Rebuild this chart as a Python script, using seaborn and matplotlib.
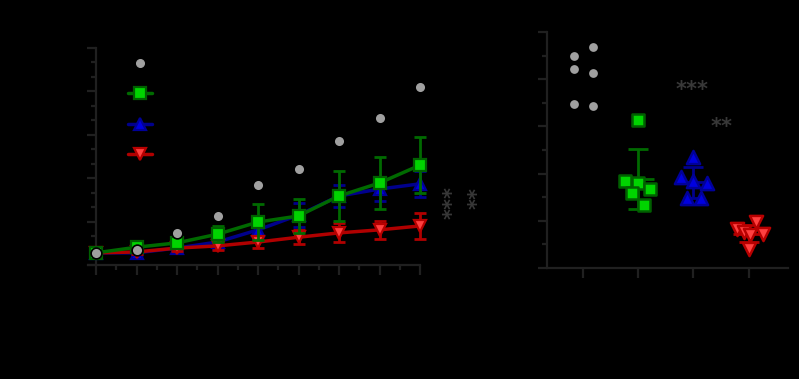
import numpy as np
import pandas as pd
import matplotlib
matplotlib.use("Agg")
import matplotlib.pyplot as plt
from matplotlib.lines import Line2D
from matplotlib.ticker import MultipleLocator
import seaborn as sns

# ---------------- data ----------------
days = [0, 1, 2, 3, 4, 5, 6, 7, 8]
control_mean = [0.28, 0.35, 0.74, 1.13, 1.84, 2.21, 2.86, 3.39, 4.10]
green_mean = [0.28, 0.41, 0.51, 0.71, 0.99, 1.13, 1.59, 1.89, 2.30]
green_err = [0.0, 0.05, 0.06, 0.18, 0.41, 0.39, 0.58, 0.60, 0.65]
blue_mean = [0.28, 0.28, 0.39, 0.53, 0.81, 1.15, 1.59, 1.75, 1.87]
blue_err = [0.0, 0.04, 0.06, 0.16, 0.20, 0.28, 0.25, 0.28, 0.30]
red_mean = [0.28, 0.30, 0.39, 0.44, 0.53, 0.64, 0.74, 0.81, 0.90]
red_err = [0.0, 0.04, 0.07, 0.10, 0.14, 0.16, 0.22, 0.20, 0.30]

groups = ["G0", "G1", "G2", "G3"]
control_pts = [4.49, 4.22, 3.47, 4.68, 4.13, 3.43]
green_pts = [3.14, 1.84, 1.80, 1.67, 1.59, 1.33]
blue_pts = [2.35, 1.93, 1.84, 1.80, 1.48, 1.48]
red_pts = [0.97, 0.83, 0.76, 0.72, 0.70, 0.40]

stars_left = ["***", "**"]
stars_right = ["***", "**"]

# scatter-dot spread (horizontal jitter, in category widths)
control_jit = [-0.16, -0.16, -0.16, 0.18, 0.18, 0.18]
green_jit = [0.0, -0.23, 0.0, 0.22, -0.11, 0.11]
blue_jit = [0.0, -0.22, 0.0, 0.24, -0.11, 0.13]
red_jit = [0.13, -0.22, -0.09, 0.25, 0.02, 0.0]

# ---------------- style ----------------
sns.set_theme(style="ticks")
plt.rcParams["font.family"] = ["DejaVu Sans"]
BG = "black"
SPINE = "#202020"
STAR = "#383838"

GRAY_F = "#a0a0a0"
GREEN_L, GREEN_F, GREEN_E = "#006a00", "#00d400", "#006000"
BLUE_L, BLUE_F, BLUE_E = "#00008c", "#0000e0", "#000099"
RED_L, RED_F, RED_E = "#b00000", "#ff4040", "#b80000"

fig = plt.figure(figsize=(7.99, 3.79), dpi=100, facecolor=BG)

def style_axes(ax):
    ax.set_facecolor(BG)
    for s in ["top", "right"]:
        ax.spines[s].set_visible(False)
    for s in ["left", "bottom"]:
        ax.spines[s].set_color(SPINE)
        ax.spines[s].set_linewidth(1.6)
    ax.tick_params(which="major", color=SPINE, width=1.6, length=6.5,
                   direction="out", labelleft=False, labelbottom=False)
    ax.tick_params(which="minor", color=SPINE, width=1.6, length=3.5,
                   direction="out")
    ax.grid(False)
    ax.set_xlabel("")
    ax.set_ylabel("")

# ---------------- left panel ----------------
ax1 = fig.add_axes([88 / 799, 1 - 265 / 379, 332 / 799, 217 / 379])
style_axes(ax1)

series = [
    (blue_mean, blue_err, "^", BLUE_L, BLUE_F, BLUE_E, 3),
    (red_mean, red_err, "v", RED_L, RED_F, RED_E, 4),
    (green_mean, green_err, "s", GREEN_L, GREEN_F, GREEN_E, 5),
]
for mean, err, mk, lc, fc, ec, z in series:
    ax1.errorbar(days, mean, yerr=err, fmt="none", ecolor=lc, elinewidth=2,
                 capsize=4.5, capthick=2, zorder=z)
    sns.lineplot(x=days, y=mean, ax=ax1, color=lc, linewidth=2.5, marker=mk,
                 markersize=8, markerfacecolor=fc, markeredgecolor=ec,
                 markeredgewidth=1.6, zorder=z)
sns.scatterplot(x=days, y=control_mean, ax=ax1, color=GRAY_F, s=60,
                edgecolor="black", linewidth=1.2, zorder=6)
for art in ax1.get_children():
    if hasattr(art, "set_clip_on") and art not in ax1.spines.values():
        art.set_clip_on(False)

ax1.set_xlim(-0.2, 8)
ax1.set_ylim(0, 5)
ax1.spines["left"].set_position(("data", 0))
ax1.xaxis.set_major_locator(MultipleLocator(1))
ax1.xaxis.set_minor_locator(MultipleLocator(0.5))
ax1.yaxis.set_major_locator(MultipleLocator(1))
ax1.yaxis.set_minor_locator(MultipleLocator(1 / 3))
ax1.tick_params(which="major", length=7.5)
ax1.tick_params(axis="y", which="major", length=6.5)

handles = [
    Line2D([], [], linestyle="none", marker="o", markersize=5.5,
           markerfacecolor=GRAY_F, markeredgecolor=GRAY_F),
    Line2D([], [], color=GREEN_L, lw=2.5, marker="s", markersize=8,
           markerfacecolor=GREEN_F, markeredgecolor=GREEN_E, markeredgewidth=1.6),
    Line2D([], [], color=BLUE_L, lw=2.5, marker="^", markersize=8,
           markerfacecolor=BLUE_F, markeredgecolor=BLUE_E, markeredgewidth=1.6),
    Line2D([], [], color=RED_L, lw=2.5, marker="v", markersize=8,
           markerfacecolor=RED_F, markeredgecolor=RED_E, markeredgewidth=1.6),
]
leg = ax1.legend(handles, ["", "", "", ""], loc="upper left",
                 bbox_to_anchor=((128 - 88) / 332, (265 - 57) / 217),
                 frameon=False, fontsize=10, handlelength=1.75,
                 labelspacing=1.17, borderaxespad=0, borderpad=0,
                 handletextpad=0.2)

ax1.text(8.80, 1.43, stars_left[0], rotation=90, color=STAR, fontsize=15,
         fontweight="bold", ha="center", va="center", clip_on=False)
ax1.text(9.42, 1.55, stars_left[1], rotation=90, color=STAR, fontsize=15,
         fontweight="bold", ha="center", va="center", clip_on=False)

# ---------------- right panel ----------------
ax2 = fig.add_axes([547 / 799, 1 - 268 / 379, 241 / 799, 236 / 379])
style_axes(ax2)

df = pd.DataFrame({
    "group": np.repeat(groups, 6),
    "pos": np.repeat(np.arange(len(groups)), 6).astype(float),
    "value": control_pts + green_pts + blue_pts + red_pts,
    "jit": control_jit + green_jit + blue_jit + red_jit,
})
df["x"] = df["pos"] + df["jit"]

specs = [
    ("o", 40, GRAY_F, GRAY_F, 0.0, None),
    ("s", 85, GREEN_F, GREEN_E, 1.8, GREEN_L),
    ("^", 90, BLUE_F, BLUE_E, 1.8, BLUE_L),
    ("v", 90, RED_F, RED_E, 1.8, RED_L),
]
for i, (mk, sz, fc, ec, lw, barc) in enumerate(specs):
    sub = df[df["group"] == groups[i]]
    m = float(sub["value"].mean())
    sd = float(sub["value"].std(ddof=1))
    if barc is not None:
        ax2.errorbar([i], [m], yerr=[sd], fmt="none", ecolor=barc,
                     elinewidth=2, capsize=7, capthick=2, zorder=2)
        ax2.hlines(m, i - 0.28, i + 0.28, color=barc, lw=2, zorder=2)
    sns.scatterplot(data=sub, x="x", y="value", ax=ax2, marker=mk, s=sz,
                    color=fc, edgecolor=ec, linewidth=lw, zorder=3,
                    legend=False)

ax2.set_xlim(-0.65, 3.71)
ax2.set_ylim(0, 5)
ax2.yaxis.set_major_locator(MultipleLocator(1))
ax2.yaxis.set_minor_locator(MultipleLocator(0.5))
ax2.set_xticks(range(len(groups)))
ax2.set_xticklabels([""] * len(groups))
ax2.tick_params(axis="x", which="major", length=7.5)
ax2.tick_params(axis="x", which="minor", length=0)
ax2.set_xlabel("")
ax2.set_ylabel("")

ax2.text(1.97, 3.78, stars_right[0], color=STAR, fontsize=15,
         fontweight="bold", ha="center", va="center", clip_on=False)
ax2.text(2.5, 2.98, stars_right[1], color=STAR, fontsize=15,
         fontweight="bold", ha="center", va="center", clip_on=False)

fig.savefig("out.png", dpi=100, facecolor=BG)
